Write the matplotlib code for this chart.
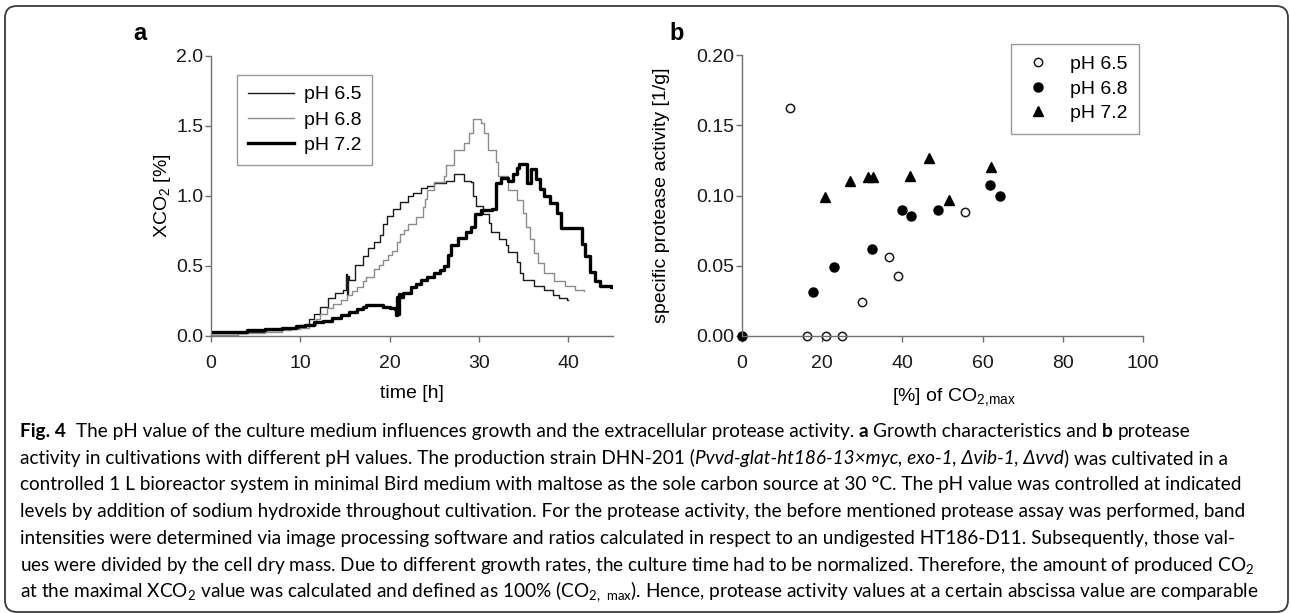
import matplotlib
matplotlib.use('Agg')
import matplotlib.pyplot as plt
from matplotlib.patches import FancyBboxPatch
from matplotlib.transforms import IdentityTransform

plt.rcParams['font.family'] = ['Liberation Sans', 'DejaVu Sans']
plt.rcParams['mathtext.default'] = 'regular'

# --- panel a: XCO2 over time (step curves) ---
t65 = [0, 2, 4, 6, 8, 9, 10, 11, 11.5, 12.2, 13.1, 13.9, 14.8, 15.1, 15.2, 15.3, 15.4, 16.1, 17.0, 17.6,
       18.2, 18.9, 19.3, 19.7, 20.4, 21.2, 22.0, 22.6, 23.5, 24.2, 25.0, 26.3, 27.2, 28.3, 29.1, 29.3, 29.7,
       30.4, 31.1, 31.3, 32.2, 33.0, 33.2, 34.3, 34.6, 34.9, 36.2, 37.3, 38.3, 38.9, 39.8, 40.0]
v65 = [0.02, 0.02, 0.03, 0.04, 0.05, 0.06, 0.08, 0.12, 0.16, 0.21, 0.27, 0.31, 0.33, 0.44, 0.29, 0.43, 0.40,
       0.51, 0.57, 0.63, 0.67, 0.72, 0.80, 0.86, 0.91, 0.96, 1.00, 1.02, 1.06, 1.07, 1.09, 1.11, 1.16, 1.11,
       1.10, 1.00, 0.93, 0.87, 0.81, 0.74, 0.69, 0.65, 0.60, 0.53, 0.45, 0.40, 0.36, 0.33, 0.29, 0.27, 0.26, 0.26]

t68 = [0, 3, 6, 8, 9, 10, 11, 11.8, 12.2, 13.0, 13.7, 14.5, 15.2, 15.8, 16.3, 17.0, 17.4, 18.2, 18.8, 19.3,
       19.8, 20.3, 20.8, 21.2, 21.6, 22.1, 22.9, 23.7, 24.0, 24.2, 25.0, 26.1, 26.3, 27.2, 28.3, 28.9, 29.3,
       30.2, 30.6, 31.0, 31.9, 32.1, 33.2, 34.3, 34.9, 35.3, 35.7, 36.2, 36.6, 37.3, 38.4, 39.6, 40.7, 41.8]
v68 = [0.01, 0.02, 0.03, 0.04, 0.05, 0.06, 0.08, 0.12, 0.16, 0.20, 0.23, 0.26, 0.29, 0.32, 0.35, 0.39, 0.42,
       0.48, 0.51, 0.54, 0.58, 0.61, 0.67, 0.73, 0.76, 0.80, 0.85, 0.92, 0.98, 1.04, 1.10, 1.14, 1.22, 1.33,
       1.38, 1.45, 1.55, 1.52, 1.45, 1.33, 1.24, 1.14, 1.04, 0.97, 0.88, 0.78, 0.69, 0.59, 0.52, 0.45, 0.39,
       0.36, 0.33, 0.32]

t72 = [0, 2, 4, 6, 8, 9.5, 10.5, 11.5, 12.5, 13.5, 14.5, 15.5, 16.3, 17.0, 17.4, 19.2, 20.0, 20.6, 20.7,
       20.8, 20.9, 21.0, 21.2, 21.5, 22.4, 23.0, 23.5, 24.2, 25.0, 25.6, 26.1, 26.5, 26.9, 27.6, 28.5, 29.1,
       29.5, 30.2, 31.5, 31.9, 32.5, 33.2, 33.8, 34.2, 34.5, 35.4, 35.8, 36.4, 36.8, 37.3, 37.9, 38.7, 39.2,
       41.5, 41.9, 42.4, 43.0, 43.6, 44.8, 45.0]
v72 = [0.03, 0.03, 0.04, 0.05, 0.06, 0.07, 0.08, 0.10, 0.11, 0.13, 0.15, 0.17, 0.19, 0.21, 0.22, 0.21, 0.20,
       0.19, 0.15, 0.28, 0.16, 0.30, 0.28, 0.31, 0.35, 0.37, 0.40, 0.42, 0.45, 0.47, 0.50, 0.58, 0.65, 0.70,
       0.74, 0.78, 0.87, 0.90, 0.91, 1.09, 1.13, 1.11, 1.16, 1.20, 1.23, 1.09, 1.19, 1.12, 1.05, 1.00, 0.95,
       0.88, 0.77, 0.66, 0.57, 0.46, 0.39, 0.36, 0.35, 0.35]

# --- panel b: protease activity vs % of CO2,max ---
x65 = [12.0, 16.2, 21.0, 25.0, 29.9, 36.7, 38.9, 55.6]
y65 = [0.162, 0.0, 0.0, 0.0, 0.024, 0.056, 0.043, 0.088]
x68 = [0.0, 17.7, 22.9, 32.4, 39.9, 42.1, 48.9, 61.8, 64.3]
y68 = [0.0, 0.031, 0.049, 0.062, 0.090, 0.0855, 0.0895, 0.1075, 0.0995]
x72 = [20.7, 27.0, 31.4, 32.7, 41.9, 46.7, 51.6, 62.1]
y72 = [0.099, 0.110, 0.113, 0.113, 0.114, 0.127, 0.097, 0.120]

labels = ['pH 6.5', 'pH 6.8', 'pH 7.2']

W, H = 1290, 613
fig = plt.figure(figsize=(W / 100, H / 100), dpi=100)

def px_axes(l, r, t, b):
    return fig.add_axes([l / W, 1 - b / H, (r - l) / W, (b - t) / H])

spine_c = '#707070'
fs = 14

def style_axes(ax):
    for s in ['top', 'right']:
        ax.spines[s].set_visible(False)
    for s in ['left', 'bottom']:
        ax.spines[s].set_color(spine_c)
        ax.spines[s].set_linewidth(1.0)
    ax.tick_params(axis='both', direction='out', length=4, width=1.0, color=spine_c,
                   labelsize=fs, labelcolor='#1a1a1a')
    ax.tick_params(axis='y', pad=1.5)
    ax.tick_params(axis='x', pad=10)

# panel a
ax1 = px_axes(211, 613, 56, 336)
ax1.plot(t65, v65, drawstyle='steps-post', color='#1a1a1a', lw=1.0, label=labels[0])
ax1.plot(t68, v68, drawstyle='steps-post', color='#8c8c8c', lw=1.0, label=labels[1])
ax1.plot(t72, v72, drawstyle='steps-post', color='#000000', lw=2.4, label=labels[2])
ax1.set_xlim(0, 45)
ax1.set_ylim(0, 2.0)
ax1.set_xticks([0, 10, 20, 30, 40])
ax1.set_yticks([0, 0.5, 1.0, 1.5, 2.0])
ax1.set_yticklabels(['0.0', '0.5', '1.0', '1.5', '2.0'])
style_axes(ax1)
ax1.set_xlabel('time [h]', fontsize=fs)
ax1.set_ylabel('XCO$_2$ [%]', fontsize=fs)
ax1.xaxis.set_label_coords(0.5, -0.175)
ax1.yaxis.set_label_coords(-0.095, 0.5)
leg1 = ax1.legend(loc='upper left', bbox_to_anchor=(0.065, 0.932), fontsize=fs, frameon=True,
                  fancybox=False, edgecolor='#808080', handlelength=2.4, handletextpad=0.5,
                  labelspacing=0.4, borderpad=0.55, borderaxespad=0)
leg1.get_frame().set_linewidth(1.0)

# panel b
ax2 = px_axes(742, 1143, 55, 336)
ax2.plot(x65, y65, 'o', ms=6, mfc='white', mec='#1a1a1a', mew=1.1, clip_on=False, label=labels[0])
ax2.plot(x68, y68, 'o', ms=6.5, color='#000000', clip_on=False, label=labels[1])
ax2.plot(x72, y72, '^', ms=6.5, color='#000000', clip_on=False, label=labels[2])
ax2.set_xlim(0, 100)
ax2.set_ylim(0, 0.2)
ax2.set_xticks([0, 20, 40, 60, 80, 100])
ax2.set_yticks([0, 0.05, 0.10, 0.15, 0.20])
ax2.set_yticklabels(['0.00', '0.05', '0.10', '0.15', '0.20'])
style_axes(ax2)
ax2.set_xlabel('[%] of CO$_{2,\\!max}$', fontsize=fs)
ax2.set_ylabel('specific protease activity [1/g]', fontsize=fs)
ax2.xaxis.set_label_coords(0.53, -0.18)
ax2.yaxis.set_label_coords(-0.18, 0.5)
leg2 = ax2.legend(loc='upper right', bbox_to_anchor=(0.99, 1.04), fontsize=fs, frameon=True,
                  fancybox=False, edgecolor='#808080', handlelength=1.6, handletextpad=0.85,
                  labelspacing=0.36, borderpad=0.6, borderaxespad=0, numpoints=1)
leg2.get_frame().set_linewidth(1.0)

# panel letters
fig.text(140 / W, 1 - 33 / H, 'a', fontsize=17, fontweight='bold', ha='center', va='center')
fig.text(677 / W, 1 - 33 / H, 'b', fontsize=17, fontweight='bold', ha='center', va='center')

# rounded frame around the figure
frame = FancyBboxPatch((5, 1), 1283, 606, boxstyle='round,pad=0,rounding_size=12',
                       transform=IdentityTransform(), fill=False, edgecolor='#3a3a3a', lw=1.3)
fig.add_artist(frame)

# caption
cap_font = ['Lato', 'DejaVu Sans']
cap_fs = 13.7
renderer = fig.canvas.get_renderer()

def text_width(s, **kw):
    t = fig.text(0, 0, s, fontsize=cap_fs, family=cap_font, **kw)
    w = t.get_window_extent(renderer=renderer).width
    t.remove()
    return w

space_w = {}
def get_space(kw):
    key = tuple(sorted(kw.items()))
    if key not in space_w:
        space_w[key] = text_width('x x', **kw) - text_width('xx', **kw)
    return space_w[key]

def draw_line(x, y, runs):
    for s, kw in runs:
        lead = len(s) - len(s.lstrip(' '))
        trail = len(s) - len(s.rstrip(' '))
        x += lead * get_space(kw)
        core = s.strip(' ')
        t = fig.text(x / W, 1 - y / H, core, fontsize=cap_fs, family=cap_font, va='baseline', **kw)
        x += t.get_window_extent(renderer=renderer).width
        x += trail * get_space(kw)

B = {'fontweight': 'bold'}
I = {'fontstyle': 'italic'}
N = {}
cap_lines = [
    [('Fig. 4', B), ('  The pH value of the culture medium influences growth and the extracellular protease activity. ', N),
     ('a', B), (' Growth characteristics and ', N), ('b', B), (' protease', N)],
    [('activity in cultivations with different pH values. The production strain DHN-201 (', N),
     ('Pvvd-glat-ht186-13\u00d7myc, exo-1, \u0394vib-1, \u0394vvd', I), (') was cultivated in a', N)],
    [('controlled 1 L bioreactor system in minimal Bird medium with maltose as the sole carbon source at 30 \u00b0C. The pH value was controlled at indicated', N)],
    [('levels by addition of sodium hydroxide throughout cultivation. For the protease activity, the before mentioned protease assay was performed, band', N)],
    [('intensities were determined via image processing software and ratios calculated in respect to an undigested HT186-D11. Subsequently, those val-', N)],
    [('ues were divided by the cell dry mass. Due to different growth rates, the culture time had to be normalized. Therefore, the amount of produced CO$_2$', N)],
    [('at the maximal XCO$_2$ value was calculated and defined as 100% (CO$_{2,\\ max}$). Hence, protease activity values at a certain abscissa value are comparable', N)],
]
y0 = 437
for i, runs in enumerate(cap_lines):
    draw_line(20, y0 + i * 26.7, runs)

fig.savefig('out.png', dpi=100)
